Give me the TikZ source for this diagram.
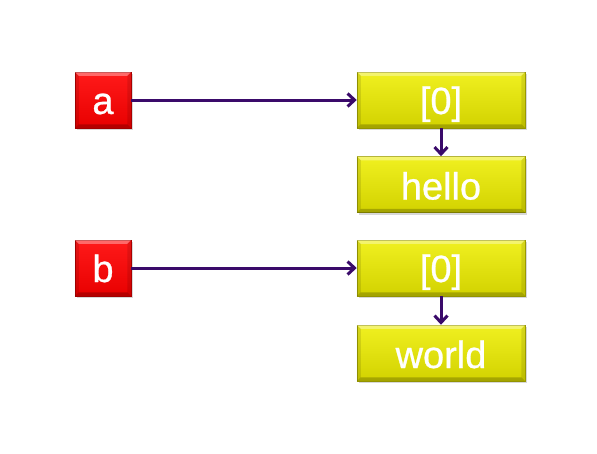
\documentclass[tikz,border=0pt]{standalone}
\usepackage{fontspec}
\setmainfont{Liberation Sans}
\newfontfamily\boxfont[FakeBold=0.7]{Liberation Sans}
\usetikzlibrary{arrows.meta,shadows,calc}
\definecolor{arrowc}{HTML}{3A0A6A}
\definecolor{redtop}{HTML}{FF1A1A}
\definecolor{redbot}{HTML}{E80000}
\definecolor{rededge}{HTML}{B00000}
\definecolor{yeltop}{HTML}{F0F020}
\definecolor{yelbot}{HTML}{D2D200}
\definecolor{yeledge}{HTML}{A0A000}
\tikzset{
  varbox/.style={minimum width=56pt, minimum height=56pt, inner sep=0pt,
    top color=redtop, bottom color=redbot, draw=rededge, line width=0.5pt,
    drop shadow={shadow xshift=1.5pt, shadow yshift=-2pt, opacity=0.3}},
  cellbox/.style={minimum width=168pt, minimum height=56pt, inner sep=0pt,
    top color=yeltop, bottom color=yelbot, draw=yeledge, line width=0.5pt,
    drop shadow={shadow xshift=1.5pt, shadow yshift=-2pt, opacity=0.3}},
  boxtext/.style={text=white, inner sep=0pt, font=\boxfont\fontsize{38pt}{38pt}\selectfont},
  link/.style={draw=arrowc, line width=3pt, -{Straight Barb[length=7pt,width=13pt,line width=3pt]}},
  bevlight/.style={fill=white, opacity=0.35},
  bevdark/.style={fill=black, opacity=0.22},
  bevside/.style={fill=black, opacity=0.1}
}
\newcommand{\bevelbox}[1]{%
  \fill[bevlight] (#1.north west) -- (#1.north east) -- ($(#1.north east)+(-4,4)$) -- ($(#1.north west)+(4,4)$) -- cycle;
  \fill[bevdark] (#1.south west) -- (#1.south east) -- ($(#1.south east)+(-4,-4)$) -- ($(#1.south west)+(4,-4)$) -- cycle;
  \fill[bevside] (#1.north west) -- (#1.south west) -- ($(#1.south west)+(4,-4)$) -- ($(#1.north west)+(4,4)$) -- cycle;
  \fill[bevside] (#1.north east) -- (#1.south east) -- ($(#1.south east)+(-4,-4)$) -- ($(#1.north east)+(-4,4)$) -- cycle;
}
\begin{document}
\begin{tikzpicture}[x=1pt,y=-1pt]
\useasboundingbox[fill=white] (0,0) rectangle (597,453);
\node[varbox] (a) at (103,100) {};
\node[varbox] (b) at (103,268) {};
\node[cellbox] (c1) at (441,100) {};
\node[cellbox] (s1) at (441,184.5) {};
\node[cellbox] (c2) at (441,268) {};
\node[cellbox] (s2) at (441,353) {};
\bevelbox{a}\bevelbox{b}\bevelbox{c1}\bevelbox{s1}\bevelbox{c2}\bevelbox{s2}
\node[boxtext, anchor=base] (ta) at ($(a.center)+(0,14)$) {a};
\node[boxtext, anchor=base] (tb) at ($(b.center)+(0,14)$) {b};
\node[boxtext, anchor=base] (tc1) at ($(c1.center)+(0,14)$) {[0]};
\node[boxtext, anchor=base] (ts1) at ($(s1.center)+(0,15)$) {hello};
\node[boxtext, anchor=base] (tc2) at ($(c2.center)+(0,14)$) {[0]};
\node[boxtext, anchor=base] (ts2) at ($(s2.center)+(0,15)$) {world};
\draw[link] (a) -- (c1);
\draw[link] (b) -- (c2);
\draw[link] (c1) -- (s1);
\draw[link] (c2) -- (s2);
\end{tikzpicture}
\end{document}
